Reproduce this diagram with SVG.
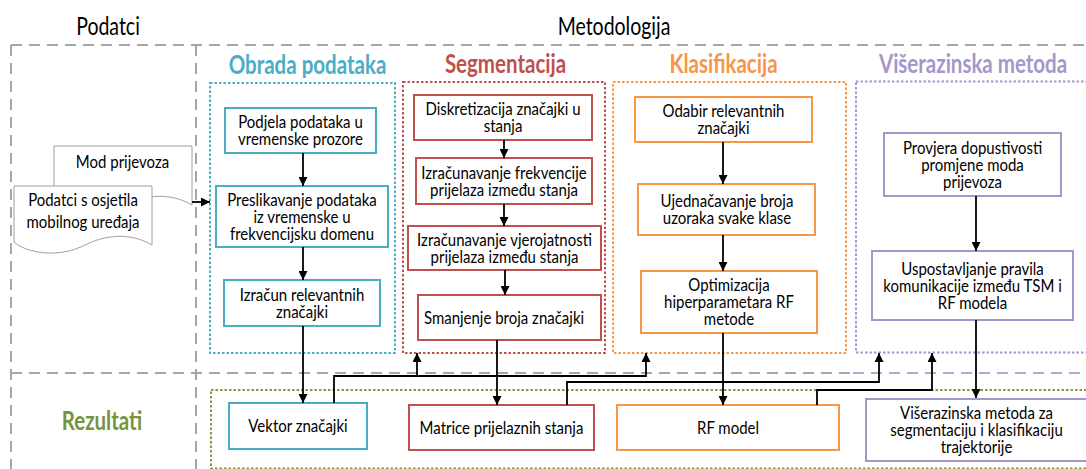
<svg xmlns="http://www.w3.org/2000/svg" width="1086" height="469" viewBox="0 0 1086 469">
<defs>
<marker id="ah" markerUnits="userSpaceOnUse" markerWidth="9" markerHeight="9" refX="9" refY="4.5" orient="auto">
<path d="M0,0 L9,4.5 L0,9 Z" fill="#000"/>
</marker>
<style>
.t{font-family:Lato,"Liberation Sans",sans-serif;font-size:15px;fill:#000;text-anchor:middle}
.h{font-family:Lato,"Liberation Sans",sans-serif;font-size:20.5px;font-weight:bold;text-anchor:middle}
.ttl{font-family:Lato,"Liberation Sans",sans-serif;font-size:19.5px;fill:#000;text-anchor:middle}
.gd{fill:none;stroke:#a6a6a6;stroke-width:2;stroke-dasharray:11 7}
.dot{fill:none;stroke-width:2;stroke-dasharray:2.5 2}
.box{fill:#fff;stroke-width:2}
.doc{fill:#fff;stroke:#a0a0a0;stroke-width:1}
.ca{fill:none;stroke:#000;stroke-width:1.8;marker-end:url(#ah)}
</style>
</defs>
<rect width="1086" height="469" fill="#fff"/>

<g id="frame">
<path class="gd" d="M11,45 H1086 M11,45 V469 M196,45 V469 M11,373 H853"/>
<path class="gd" style="stroke:#b4a7d6" d="M853,373 H1086"/>
<text class="ttl" transform="translate(108,35) scale(1,1.27)">Podatci</text>
<text class="ttl" transform="translate(614,35) scale(1,1.27)">Metodologija</text>
<text class="h" style="fill:#77933c" transform="translate(102,430) scale(1,1.27)">Rezultati</text>
</g>

<g id="group-obrada">
<rect class="dot" style="stroke:#4bacc6" x="210" y="83" width="185" height="270"/>
<text class="h" style="fill:#4bacc6" transform="translate(307.5,74) scale(1,1.27)">Obrada podataka</text>
</g>
<g id="group-segmentacija">
<rect class="dot" style="stroke:#c0504d" x="403" y="82" width="202" height="271"/>
<text class="h" style="fill:#c0504d" transform="translate(505.5,73) scale(1,1.27)">Segmentacija</text>
</g>
<g id="group-klasifikacija">
<rect class="dot" style="stroke:#f79646" x="613" y="82" width="233" height="271"/>
<text class="h" style="fill:#f79646" transform="translate(723.5,73) scale(1,1.27)">Klasifikacija</text>
</g>
<g id="group-viserazinska">
<rect class="dot" style="stroke:#a596cb" x="856" y="81.5" width="300" height="271"/>
<text class="h" style="fill:#a596cb" transform="translate(973,73) scale(1,1.27)">Višerazinska metoda</text>
</g>
<g id="group-rezultati">
<rect class="dot" style="stroke:#7f9a3f" x="211" y="390" width="900" height="78.5"/>
</g>

<g id="doc-data">
<path class="doc" d="M54,146 H192 V205 C170,192 145,195 125,205 C100,218 68,214 54,202 Z"/>
<text class="t" transform="translate(122.5,168) scale(1,1.2)">Mod prijevoza</text>
<path class="doc" d="M14,186 H152 V245 C130,232 105,235 85,245 C60,258 28,254 14,242 Z"/>
<text class="t" transform="translate(83,206) scale(1,1.2)"><tspan x="0" y="0">Podatci s osjetila</tspan><tspan x="0" y="18.3">mobilnog uređaja</tspan></text>
</g>

<g id="n-podjela">
<rect class="box" style="stroke:#4bacc6" x="225" y="108" width="151" height="45"/>
<text class="t" transform="translate(300.5,128) scale(1,1.2)"><tspan x="0" y="0">Podjela podataka u</tspan><tspan x="0" y="14.17">vremenske prozore</tspan></text>
</g>
<g id="n-preslikavanje">
<rect class="box" style="stroke:#4bacc6" x="216" y="186" width="172" height="61"/>
<text class="t" transform="translate(302,205.5) scale(1,1.2)"><tspan x="0" y="0">Preslikavanje podataka</tspan><tspan x="0" y="14.17">iz vremenske u</tspan><tspan x="0" y="28.34">frekvencijsku domenu</tspan></text>
</g>
<g id="n-izracun">
<rect class="box" style="stroke:#4bacc6" x="224" y="280" width="156" height="46"/>
<text class="t" transform="translate(302,300.5) scale(1,1.2)"><tspan x="0" y="0">Izračun relevantnih</tspan><tspan x="0" y="14.17">značajki</tspan></text>
</g>

<g id="n-diskretizacija">
<rect class="box" style="stroke:#c0504d" x="414" y="95" width="178" height="45"/>
<text class="t" transform="translate(503,115) scale(1,1.2)"><tspan x="0" y="0">Diskretizacija značajki u</tspan><tspan x="0" y="14.17">stanja</tspan></text>
</g>
<g id="n-frekvencija">
<rect class="box" style="stroke:#c0504d" x="416" y="158" width="176" height="46"/>
<text class="t" transform="translate(504,178.5) scale(1,1.2)"><tspan x="0" y="0">Izračunavanje frekvencije</tspan><tspan x="0" y="14.17">prijelaza između stanja</tspan></text>
</g>
<g id="n-vjerojatnost">
<rect class="box" style="stroke:#c0504d" x="408" y="226" width="193" height="44"/>
<text class="t" transform="translate(504.5,245.5) scale(1,1.2)"><tspan x="0" y="0">Izračunavanje vjerojatnosti</tspan><tspan x="0" y="14.17">prijelaza između stanja</tspan></text>
</g>
<g id="n-smanjenje">
<rect class="box" style="stroke:#c0504d" x="418" y="295" width="183" height="45"/>
<text class="t" transform="translate(504,323.5) scale(1,1.2)">Smanjenje broja značajki</text>
</g>

<g id="n-odabir">
<rect class="box" style="stroke:#f79646" x="635" y="97" width="177" height="45"/>
<text class="t" transform="translate(723.5,117) scale(1,1.2)"><tspan x="0" y="0">Odabir relevantnih</tspan><tspan x="0" y="14.17">značajki</tspan></text>
</g>
<g id="n-ujednacavanje">
<rect class="box" style="stroke:#f79646" x="638" y="184" width="177" height="51"/>
<text class="t" transform="translate(727,207) scale(1,1.2)"><tspan x="0" y="0">Ujednačavanje broja</tspan><tspan x="0" y="14.17">uzoraka svake klase</tspan></text>
</g>
<g id="n-optimizacija">
<rect class="box" style="stroke:#f79646" x="641" y="271" width="176" height="62"/>
<text class="t" transform="translate(729,291) scale(1,1.2)"><tspan x="0" y="0">Optimizacija</tspan><tspan x="0" y="14.17">hiperparametara RF</tspan><tspan x="0" y="28.34">metode</tspan></text>
</g>

<g id="n-provjera">
<rect class="box" style="stroke:#a596cb" x="884" y="133" width="177" height="63"/>
<text class="t" transform="translate(972.5,153.5) scale(1,1.2)"><tspan x="0" y="0">Provjera dopustivosti</tspan><tspan x="0" y="14.17">promjene moda</tspan><tspan x="0" y="28.34">prijevoza</tspan></text>
</g>
<g id="n-uspostavljanje">
<rect class="box" style="stroke:#a596cb" x="872" y="251" width="201" height="69"/>
<text class="t" transform="translate(972.5,274.5) scale(1,1.2)"><tspan x="0" y="0">Uspostavljanje pravila</tspan><tspan x="0" y="14.17">komunikacije između TSM i</tspan><tspan x="0" y="28.34">RF modela</tspan></text>
</g>

<g id="n-vektor">
<rect class="box" style="stroke:#4bacc6" x="229" y="403" width="138" height="46"/>
<text class="t" transform="translate(298,432) scale(1,1.2)">Vektor značajki</text>
</g>
<g id="n-matrice">
<rect class="box" style="stroke:#c0504d" x="409" y="405" width="185" height="45"/>
<text class="t" transform="translate(501.5,433.5) scale(1,1.2)">Matrice prijelaznih stanja</text>
</g>
<g id="n-rfmodel">
<rect class="box" style="stroke:#f79646" x="617" y="405" width="222" height="45"/>
<text class="t" transform="translate(728,433.5) scale(1,1.2)">RF model</text>
</g>
<g id="n-rezultat-viserazinska">
<rect class="box" style="stroke:#a596cb" x="866" y="399" width="260" height="62"/>
<text class="t" transform="translate(976.5,419) scale(1,1.2)"><tspan x="0" y="0">Višerazinska metoda za</tspan><tspan x="0" y="14.17">segmentaciju i klasifikaciju</tspan><tspan x="0" y="28.34">trajektorije</tspan></text>
</g>

<g id="connectors">
<path class="ca" d="M192,202 H210"/>
<path class="ca" d="M303,153 V186"/>
<path class="ca" d="M303,247 V280"/>
<path class="ca" d="M303,326 V403"/>
<path class="ca" d="M504,140 V158"/>
<path class="ca" d="M504,204 V226"/>
<path class="ca" d="M505,270 V295"/>
<path class="ca" d="M497,340 V405"/>
<path class="ca" d="M723,142 V184"/>
<path class="ca" d="M723,235 V271"/>
<path class="ca" d="M723,333 V405"/>
<path class="ca" d="M976,196 V251"/>
<path class="ca" d="M976,320 V398"/>
<path class="ca" d="M334,403 V376 H646 V353"/>
<path class="ca" d="M417,376 V353"/>
<path class="ca" d="M567,405 V382 H879 V353"/>
<path class="ca" d="M817,405 V390 H932 V353"/>
</g>
</svg>
